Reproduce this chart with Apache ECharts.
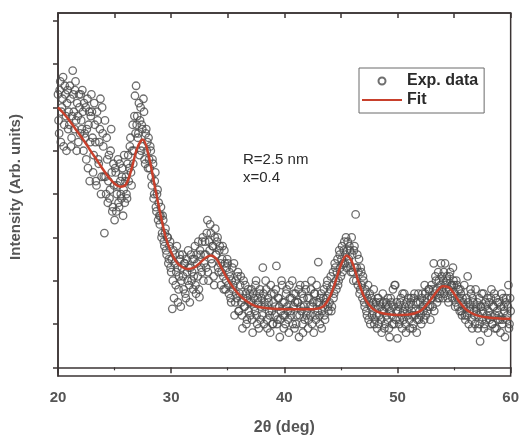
<!DOCTYPE html>
<html><head><meta charset="utf-8">
<script src="https://cdn.jsdelivr.net/npm/echarts@6/dist/echarts.min.js"></script>
<style>html,body{margin:0;padding:0;background:#fff}#c{width:522px;height:441px}</style>
</head><body><div id="c"></div>
<script>
// sampling grid of the measured scan (deg): two interleaved passes
const scanStartA = 20;
const scanStartB = 20.05;
const scanStep = 0.1;
const expIntensityA = [
  6.3, 5.4, 6.6, 5.9, 6.2, 5.1, 6.5, 5.8, 6.1, 5.5,
  5.6, 6.2, 5.3, 6.85, 5.9, 6.4, 5.7, 6.1, 5.2, 6.0,
  6.3, 5.5, 5.9, 6.1, 5.3, 4.8, 6.2, 5.6, 4.3, 5.8,
  5.9, 4.5, 6.1, 5.2, 4.2, 5.7, 4.7, 5.5, 4.0, 6.0,
  5.1, 3.1, 4.4, 5.3, 3.8, 4.9, 4.1, 5.5, 3.6, 4.7,
  3.4, 4.5, 4.0, 4.8, 3.7, 4.3, 3.9, 4.6, 4.1, 3.8,
  4.4, 3.9, 4.9, 4.6, 5.3, 4.2, 5.6, 5.0, 6.27, 6.5,
  5.8, 5.4, 4.9, 6.0, 5.6, 5.1, 5.9, 4.7, 5.5, 5.2,
  5.3, 4.6, 5.0, 4.2, 4.7, 4.0, 4.5, 3.6, 4.1, 3.8,
  3.3, 3.7, 3.1, 3.4, 2.8, 3.2, 2.6, 3.0, 2.5, 2.9,
  2.2, 1.35, 2.7, 2.4, 1.9, 2.8, 1.5, 2.1, 2.5, 2.0,
  2.6, 1.8, 2.4, 1.6, 2.2, 2.7, 1.9, 2.3, 2.0, 2.5,
  2.1, 2.8, 1.7, 2.4, 2.9, 1.62, 2.6, 2.2, 3.0, 2.4,
  2.9, 2.3, 3.4, 2.0, 2.7, 3.1, 2.4, 2.8, 1.9, 3.2,
  2.6, 3.0, 2.2, 2.8, 1.9, 2.5, 2.1, 2.7, 1.8, 2.3,
  2.4, 1.7, 2.1, 1.5, 2.3, 1.9, 1.2, 2.0, 1.6, 2.2,
  1.3, 1.9, 1.5, 0.9, 2.0, 1.4, 1.7, 1.1, 1.8, 1.5,
  1.2, 1.8, 0.8, 1.6, 1.3, 2.0, 1.0, 1.5, 1.7, 1.1,
  1.6, 2.3, 1.0, 1.4, 1.8, 0.9, 1.5, 1.2, 1.9, 1.3,
  1.0, 1.7, 1.4, 2.34, 1.1, 1.6, 0.7, 1.3, 1.9, 1.2,
  1.5, 1.0, 1.8, 1.3, 0.8, 1.6, 1.2, 2.0, 1.4, 0.9,
  1.7, 1.2, 1.5, 0.7, 1.9, 1.3, 1.0, 1.6, 1.1, 1.8,
  1.3, 0.9, 1.6, 1.2, 2.0, 1.4, 0.8, 1.7, 1.1, 1.5,
  2.43, 1.2, 1.6, 0.9, 1.4, 1.8, 1.1, 1.6, 2.0, 1.3,
  1.5, 2.1, 1.4, 2.2, 1.7, 2.3, 1.8, 2.5, 2.0, 2.6,
  2.1, 2.8, 2.4, 2.9, 2.6, 2.3, 2.9, 2.5, 2.7, 2.2,
  2.6, 2.0, 2.8, 3.53, 2.3, 1.9, 2.5, 1.8, 2.2, 1.6,
  2.0, 1.4, 1.7, 1.2, 1.9, 1.5, 1.0, 1.6, 1.3, 1.8,
  1.1, 1.5, 0.9, 1.6, 1.2, 1.4, 0.8, 1.7, 1.3, 1.0,
  1.5, 1.1, 1.4, 0.7, 1.6, 1.2, 1.8, 1.0, 1.9, 1.3,
  0.67, 1.4, 1.1, 1.6, 0.9, 1.3, 1.7, 1.0, 1.5, 1.2,
  1.4, 0.9, 1.6, 1.2, 1.0, 1.7, 1.3, 0.8, 1.5, 1.1,
  1.5, 1.0, 1.7, 1.3, 1.9, 1.2, 1.6, 1.4, 1.8, 1.1,
  1.9, 1.4, 2.4, 1.7, 2.0, 1.5, 2.2, 1.6, 1.9, 2.1,
  1.6, 2.2, 2.4, 1.8, 2.0, 1.5, 2.1, 1.7, 1.9, 2.3,
  1.9, 1.4, 2.0, 1.6, 1.8, 1.3, 1.7, 1.2, 1.5, 1.9,
  1.1, 1.6, 2.1, 1.0, 1.4, 1.7, 0.9, 1.5, 1.2, 1.8,
  1.3, 0.9, 1.6, 0.6, 1.4, 1.1, 1.7, 1.0, 1.5, 1.2,
  0.8, 1.5, 1.2, 1.8, 1.0, 1.4, 0.9, 1.6, 1.3, 1.1,
  1.5, 0.8, 1.7, 1.1, 1.4, 0.7, 1.6, 1.2, 1.9, 1.0,
  1.3
];
const expIntensityB = [
  5.7, 6.4, 5.2, 6.0, 6.7, 5.6, 6.3, 5.0, 6.4, 5.9,
  6.5, 5.1, 5.8, 6.3, 5.5, 6.6, 5.0, 5.8, 6.3, 5.4,
  5.7, 6.4, 5.0, 5.4, 6.0, 5.5, 4.6, 5.9, 5.2, 6.3,
  5.3, 4.9, 5.6, 4.3, 5.9, 4.8, 5.2, 6.2, 4.4, 5.4,
  4.4, 5.7, 4.0, 4.8, 4.3, 3.9, 5.0, 4.5, 3.7, 4.2,
  4.6, 3.6, 4.2, 3.8, 4.7, 4.0, 4.4, 3.5, 4.9, 4.3,
  4.0, 4.7, 4.3, 5.1, 4.5, 5.0, 4.7, 5.8, 5.4, 5.6,
  5.3, 6.1, 5.7, 5.0, 5.5, 6.2, 4.8, 5.4, 5.0, 4.6,
  4.8, 5.1, 4.4, 4.8, 3.9, 4.3, 3.7, 4.0, 3.4, 3.5,
  3.5, 3.0, 3.5, 2.9, 3.1, 2.7, 3.0, 2.4, 2.8, 2.3,
  2.5, 2.0, 1.6, 2.6, 2.2, 2.3, 1.8, 2.6, 1.4, 2.3,
  2.1, 2.4, 1.7, 2.5, 2.0, 2.3, 1.5, 2.6, 2.2, 1.8,
  2.5, 1.9, 2.6, 2.1, 1.8, 2.7, 2.3, 2.9, 2.0, 2.6,
  2.6, 3.1, 2.2, 2.9, 3.3, 2.5, 2.8, 2.1, 3.0, 2.6,
  2.9, 2.3, 2.7, 2.4, 2.2, 2.8, 1.8, 2.4, 2.0, 2.5,
  1.9, 2.2, 1.6, 2.0, 1.8, 2.4, 1.5, 1.7, 2.1, 1.3,
  1.7, 2.1, 1.2, 1.6, 1.4, 1.9, 1.0, 1.6, 1.3, 1.7,
  1.5, 1.1, 1.7, 1.4, 1.9, 1.2, 1.6, 0.9, 1.8, 1.4,
  1.2, 1.7, 1.5, 2.0, 1.1, 1.6, 1.3, 0.8, 1.7, 1.0,
  1.5, 1.2, 1.8, 1.0, 1.6, 1.4, 1.1, 2.0, 1.5, 0.9,
  1.2, 1.7, 1.4, 1.1, 1.9, 1.3, 1.6, 1.0, 1.7, 1.5,
  1.0, 1.5, 1.8, 1.2, 1.4, 1.7, 0.8, 1.4, 1.9, 1.2,
  1.6, 1.1, 1.4, 1.8, 1.0, 1.5, 1.7, 1.2, 1.9, 1.3,
  1.5, 1.0, 1.7, 1.3, 1.6, 1.2, 1.5, 1.9, 1.4, 1.7,
  1.8, 1.3, 1.9, 1.6, 2.4, 2.0, 2.2, 1.9, 2.7, 2.3,
  2.5, 2.2, 2.7, 2.4, 3.0, 2.7, 2.4, 2.8, 2.3, 3.0,
  2.2, 2.7, 2.3, 2.0, 2.6, 2.2, 1.7, 2.3, 1.9, 2.1,
  1.5, 1.8, 1.3, 1.6, 1.1, 1.7, 1.4, 1.2, 1.5, 1.0,
  1.4, 1.2, 1.6, 1.0, 1.5, 1.1, 1.3, 1.5, 0.9, 1.4,
  1.2, 1.6, 0.9, 1.3, 1.5, 1.0, 1.4, 1.9, 1.1, 1.5,
  1.3, 1.0, 1.5, 1.2, 1.7, 1.1, 1.4, 0.8, 1.3, 1.6,
  1.1, 1.5, 1.3, 0.9, 1.6, 1.2, 1.5, 1.1, 1.7, 1.3,
  1.2, 1.6, 1.4, 1.1, 1.7, 1.5, 1.3, 1.8, 1.4, 1.6,
  1.6, 1.8, 1.3, 2.1, 1.8, 1.6, 2.0, 1.7, 2.4, 1.8,
  2.0, 1.7, 1.9, 2.1, 1.6, 1.8, 2.2, 1.9, 1.6, 2.0,
  1.7, 1.5, 1.9, 1.4, 1.6, 1.8, 1.3, 1.6, 1.4, 1.2,
  1.4, 1.2, 1.5, 1.3, 1.8, 1.1, 1.6, 1.3, 1.0, 1.4,
  1.5, 1.2, 1.0, 1.4, 1.7, 1.3, 0.9, 1.4, 1.1, 1.6,
  1.3, 1.1, 1.6, 1.0, 1.4, 1.7, 1.2, 0.9, 1.5, 1.2,
  1.1, 1.4, 1.0, 1.6, 1.3, 1.5, 1.1, 1.4, 0.9, 1.6
];
// fitted curve
const fitAngle = [20, 20.5, 21, 21.5, 22, 22.5, 23, 23.5, 24, 24.5, 25, 25.5, 26, 26.5, 27, 27.5, 28, 28.5, 29, 29.5,
  30, 30.5, 31, 31.5, 32, 32.5, 33, 33.5, 34, 34.5, 35, 35.5, 36, 36.5, 37, 37.5, 38, 39, 40, 41,
  42, 43, 43.5, 44, 44.5, 45, 45.5, 46, 46.5, 47, 47.5, 48, 48.5, 49, 50, 51, 52, 52.5, 53, 53.5,
  54, 54.5, 55, 55.5, 56, 56.5, 57, 58, 59, 60];
const fitIntensity = [6.00, 5.86, 5.70, 5.52, 5.34, 5.15, 4.95, 4.76, 4.56, 4.38, 4.24, 4.17, 4.22, 4.58, 5.06, 5.26, 4.90, 4.25, 3.60, 3.02,
  2.65, 2.42, 2.31, 2.27, 2.30, 2.40, 2.52, 2.58, 2.50, 2.27, 2.03, 1.84, 1.68, 1.56, 1.47, 1.41, 1.38, 1.35, 1.34, 1.34,
  1.34, 1.36, 1.42, 1.62, 1.96, 2.36, 2.58, 2.42, 2.02, 1.66, 1.44, 1.32, 1.26, 1.23, 1.21, 1.22, 1.30, 1.42, 1.58, 1.76,
  1.87, 1.85, 1.70, 1.50, 1.35, 1.26, 1.20, 1.15, 1.13, 1.12];
const xTickLabels = [20, 30, 40, 50, 60];
const yTickValues = [0, 1, 2, 3, 4, 5, 6, 7, 8];
const legendNames = ['Exp. data', 'Fit'];
const annotationLines = ['R=2.5 nm', 'x=0.4'];
const xTitle = '2θ (deg)';
const yTitle = 'Intensity (Arb. units)';

const expPoints = expIntensityA.map((v, i) => [+(scanStartA + i * scanStep).toFixed(2), v])
  .concat(expIntensityB.map((v, i) => [+(scanStartB + i * scanStep).toFixed(2), v]));
const fitPoints = fitAngle.map((a, i) => [a, fitIntensity[i]]);

const axisColor = '#3b3434';
const labelColor = '#555';
const font = '"Liberation Sans", Arial, sans-serif';

const chart = echarts.init(document.getElementById('c'), null, { renderer: 'canvas' });
chart.setOption({
  animation: false,
  backgroundColor: '#fff',
  grid: { left: 58, right: 8, top: 13, bottom: 55, show: true, borderColor: axisColor, borderWidth: 1.5, backgroundColor: 'transparent' },
  legend: {
    data: [{ name: legendNames[0] }, { name: legendNames[1], icon: 'path://M0,0L40,0L40,2.2L0,2.2Z' }],
    orient: 'vertical', left: 359, top: 68,
    itemWidth: 40, itemHeight: 7, itemGap: 3,
    padding: [5, 6, 5, 3],
    borderColor: '#6a6a6a', borderWidth: 1,
    textStyle: { fontSize: 16, fontWeight: 'bold', color: '#2a2a2a', fontFamily: font }
  },
  xAxis: [{
    type: 'value', min: 20, max: 60, interval: 10, position: 'bottom',
    axisLine: { lineStyle: { color: axisColor, width: 1.5 } },
    axisTick: { inside: false, length: 6, lineStyle: { color: axisColor, width: 1.5 } },
    minorTick: { show: true, splitNumber: 2, length: 3, lineStyle: { color: axisColor, width: 1.2 } },
    splitLine: { show: false },
    axisLabel: { margin: 14, fontSize: 15, fontWeight: 'bold', color: labelColor, fontFamily: font, formatter: v => xTickLabels.includes(v) ? String(v) : '' },
    name: xTitle, nameLocation: 'middle', nameGap: 44,
    nameTextStyle: { fontSize: 16, fontWeight: 'bold', color: labelColor, fontFamily: font }
  }, {
    type: 'value', min: 20, max: 60, interval: 5, position: 'top',
    axisLine: { show: true, lineStyle: { color: axisColor, width: 1.5 } },
    axisTick: { inside: true, length: 5, lineStyle: { color: axisColor, width: 1.5 } },
    axisLabel: { show: false }, splitLine: { show: false }
  }],
  yAxis: {
    type: 'value', min: -0.2, max: 8.18,
    axisLine: { show: true, lineStyle: { color: axisColor, width: 1.5 } },
    axisTick: { show: true, inside: false, length: 5, customValues: yTickValues, lineStyle: { color: axisColor, width: 1.5 } },
    axisLabel: { show: false },
    splitLine: { show: false }
  },
  graphic: [
    { type: 'text', x: 16, y: 187, rotation: Math.PI / 2, silent: true,
      style: { text: yTitle, fill: labelColor, font: 'bold 15px ' + font, textAlign: 'center', textVerticalAlign: 'middle' } },
    { type: 'text', left: 243, top: 152, silent: true,
      style: { text: annotationLines[0], fill: '#2a2a2a', font: '15px ' + font } },
    { type: 'text', left: 243, top: 170, silent: true,
      style: { text: annotationLines[1], fill: '#2a2a2a', font: '15px ' + font } }
  ],
  series: [{
    name: legendNames[0], type: 'scatter', data: expPoints,
    symbol: 'circle', symbolSize: 7.5,
    itemStyle: { color: 'rgba(255,255,255,0)', borderColor: '#4a4a4a', borderWidth: 1.3 },
    z: 2
  }, {
    name: legendNames[1], type: 'line', data: fitPoints, smooth: 0.35,
    symbol: 'none', lineStyle: { color: '#c8402c', width: 2.5 }, itemStyle: { color: '#c8402c' },
    z: 3
  }]
});
</script></body></html>
